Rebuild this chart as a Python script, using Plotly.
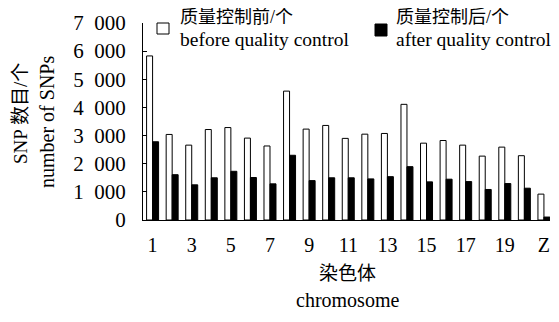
import plotly.graph_objects as go

chromosomes = [str(i) for i in range(1, 21)] + ["Z"]
before_qc = [5830, 3040, 2660, 3215, 3285, 2910, 2630, 4580, 3230, 3360, 2900,
             3050, 3075, 4110, 2730, 2825, 2660, 2270, 2590, 2285, 920]
after_qc = [2780, 1610, 1250, 1500, 1730, 1510, 1285, 2300, 1400, 1500, 1500,
            1460, 1540, 1895, 1355, 1450, 1365, 1085, 1295, 1130, 105]
y_ticks = [0, 1000, 2000, 3000, 4000, 5000, 6000, 7000]
y_tick_text = ["0", "1\u2002000", "2\u2002000", "3\u2002000", "4\u2002000",
               "5\u2002000", "6\u2002000", "7\u2002000"]
x_tick_pos = list(range(1, 22, 2))
x_tick_text = [chromosomes[i - 1] for i in x_tick_pos]

FONT = "Liberation Serif, Times New Roman, Noto Sans CJK SC, serif"
OFF = 8  # default page body margin
W, H = 559 - OFF, 322 - 2 * OFF
PLOT_RIGHT = 550  # visible right edge on screen
ML, MT = 143 - OFF, 23 - OFF
MR = W - (PLOT_RIGHT - OFF)
MB = H - (220 - OFF)
PW, PH = W - ML - MR, H - MT - MB


def px(x):
    # screen x -> paper
    return (x - OFF - ML) / PW


def py(y):
    # screen y -> paper
    return (H - MB - (y - OFF)) / PH


xs = list(range(1, len(chromosomes) + 1))
fig = go.Figure()
fig.add_bar(x=xs, y=before_qc, name="before",
            marker=dict(color="white", line=dict(color="black", width=1)))
fig.add_bar(x=xs, y=after_qc, name="after",
            marker=dict(color="black", line=dict(color="black", width=1)))

fig.update_layout(
    width=W, height=H, margin=dict(l=ML, r=MR, t=MT, b=MB, autoexpand=False),
    paper_bgcolor="white", plot_bgcolor="white",
    barmode="group", bargap=0.387, bargroupgap=0,
    showlegend=False,
    font=dict(family=FONT, size=20, color="black"),
)
fig.update_xaxes(range=[0.51, 21.31], tickvals=x_tick_pos, ticktext=x_tick_text,
                 showline=True, linecolor="black", linewidth=1, ticks="",
                 showgrid=False, zeroline=False, ticklabelstandoff=7,
                 tickfont=dict(family=FONT, size=20), automargin=False)
fig.update_yaxes(range=[0, 7000], tickvals=y_ticks, ticktext=y_tick_text,
                 showline=True, linecolor="black", linewidth=1, ticks="inside",
                 ticklen=4, tickcolor="black", showgrid=False, zeroline=False,
                 ticklabelstandoff=12, tickfont=dict(family=FONT, size=21),
                 automargin=False)


def label(text, x, y, size=20, angle=0, xanchor="center", yanchor="middle"):
    fig.add_annotation(text=text, xref="paper", yref="paper", x=px(x), y=py(y),
                       xanchor=xanchor, yanchor=yanchor, textangle=angle,
                       showarrow=False, font=dict(family=FONT, size=size),
                       borderpad=0)


# axis titles
label("染色体", 347, 273, size=19)
label("chromosome", 347, 300)
label("SNP 数目/个", 20, 114, size=19, angle=-90)
label("number of SNPs", 47, 122, angle=-90)

# legend
fig.add_shape(type="rect", xref="paper", yref="paper",
              x0=px(157), x1=px(169), y0=py(34), y1=py(23),
              fillcolor="white", line=dict(color="black", width=1))
fig.add_shape(type="rect", xref="paper", yref="paper",
              x0=px(375), x1=px(387), y0=py(36), y1=py(24),
              fillcolor="black", line=dict(color="black", width=1))
label("质量控制前/个", 179, 17, size=18, xanchor="left")
label("before quality control", 179, 39, size=19.5, xanchor="left")
label("质量控制后/个", 395, 17, size=18, xanchor="left")
label("after quality control", 395, 39, size=19.5, xanchor="left")

fig.write_html("out.html")
